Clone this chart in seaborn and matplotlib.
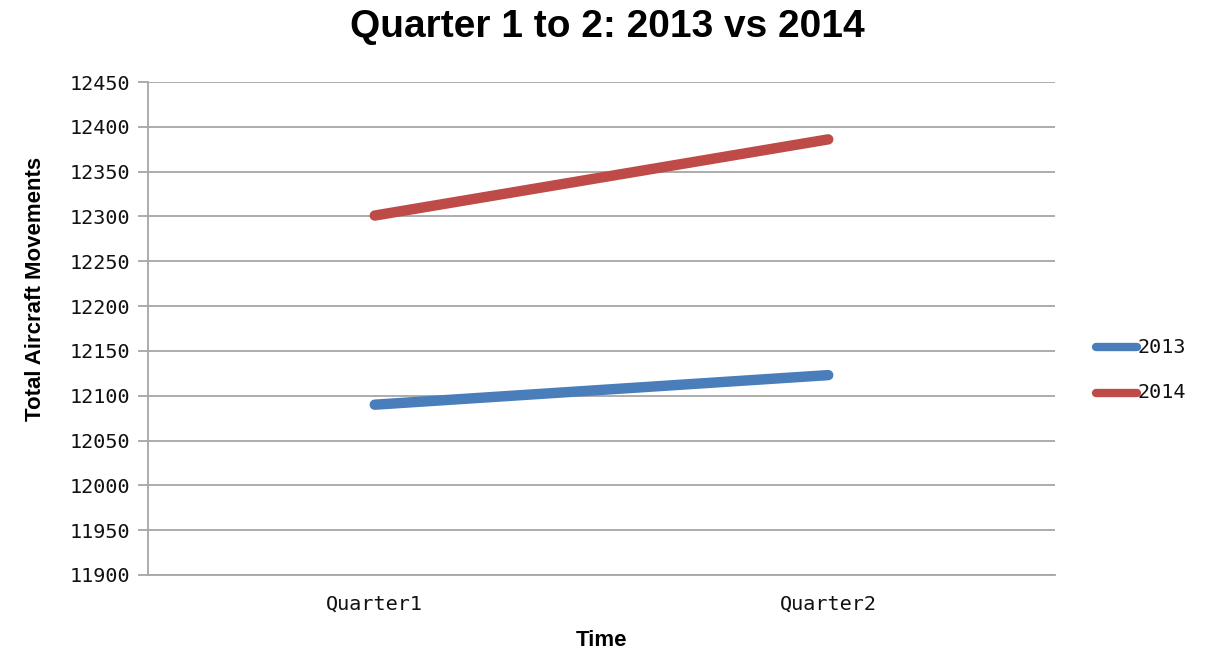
import matplotlib
matplotlib.use("Agg")
import matplotlib.pyplot as plt
import seaborn as sns
import pandas as pd

# Quarterly totals of aircraft movements
quarters = ["Quarter1", "Quarter2"]
movements_2013 = [12090, 12123]
movements_2014 = [12301, 12386]
years = ["2013", "2014"]
y_ticks = list(range(11900, 12451, 50))

df = pd.DataFrame({
    "Time": quarters * 2,
    "Movements": movements_2013 + movements_2014,
    "Year": [years[0]] * len(quarters) + [years[1]] * len(quarters),
})

sns.set_theme(style="white")
plt.rcParams["font.family"] = ["Liberation Sans", "DejaVu Sans"]

fig = plt.figure(figsize=(12.15, 6.61), dpi=100)
ax = fig.add_axes([148 / 1215, 1 - 575 / 661, (1055 - 148) / 1215, (575 - 82) / 661])

palette = {"2013": "#4A7EBB", "2014": "#BE4B48"}
sns.lineplot(data=df, x="Time", y="Movements", hue="Year", palette=palette,
             linewidth=7.5, solid_capstyle="round", ax=ax, sort=False)

ax.set_xlim(-0.5, 1.5)
ax.set_ylim(11900, 12450)
ax.set_yticks(y_ticks)
ax.yaxis.grid(True, color="#A6A6A6", linewidth=1.3)
ax.set_axisbelow(True)
for side in ["top", "right"]:
    ax.spines[side].set_visible(False)
ax.spines["left"].set_color("#A6A6A6")
ax.spines["left"].set_linewidth(1.3)
ax.spines["bottom"].set_color("#A6A6A6")
ax.spines["bottom"].set_linewidth(1.3)
ax.tick_params(axis="y", length=7, color="#A6A6A6", width=1.3, left=True, pad=6)
ax.tick_params(axis="x", length=0, pad=14)

for lab in ax.get_yticklabels() + ax.get_xticklabels():
    lab.set_fontfamily("DejaVu Sans Mono")
    lab.set_fontsize(14.5)
    lab.set_color("#111111")

ax.set_xlabel("Time", fontsize=16, fontweight="bold", color="black")
ax.xaxis.set_label_coords(0.5, -(641 - 575) / 493, transform=ax.transAxes)
ax.xaxis.label.set_verticalalignment("center")
ax.set_ylabel("Total Aircraft Movements", fontsize=16, fontweight="bold", color="black")
ax.yaxis.set_label_coords(-(148 - 36) / 907, (575 - 289) / 493, transform=ax.transAxes)
ax.yaxis.label.set_verticalalignment("center")

fig.text(0.5, 1 - 27 / 661, "Quarter 1 to 2: 2013 vs 2014", fontsize=28,
         fontweight="bold", color="black", ha="center", va="center")

leg = ax.legend(title=None, frameon=False, loc="center left",
                bbox_to_anchor=(1.03, (575 - 370) / 493), handlelength=2.7,
                handletextpad=0.05, labelspacing=1.75)
for t in leg.get_texts():
    t.set_fontfamily("DejaVu Sans Mono")
    t.set_fontsize(14.5)
    t.set_color("#111111")
for h in leg.get_lines():
    h.set_linewidth(6)

fig.savefig("out.png", dpi=100)
